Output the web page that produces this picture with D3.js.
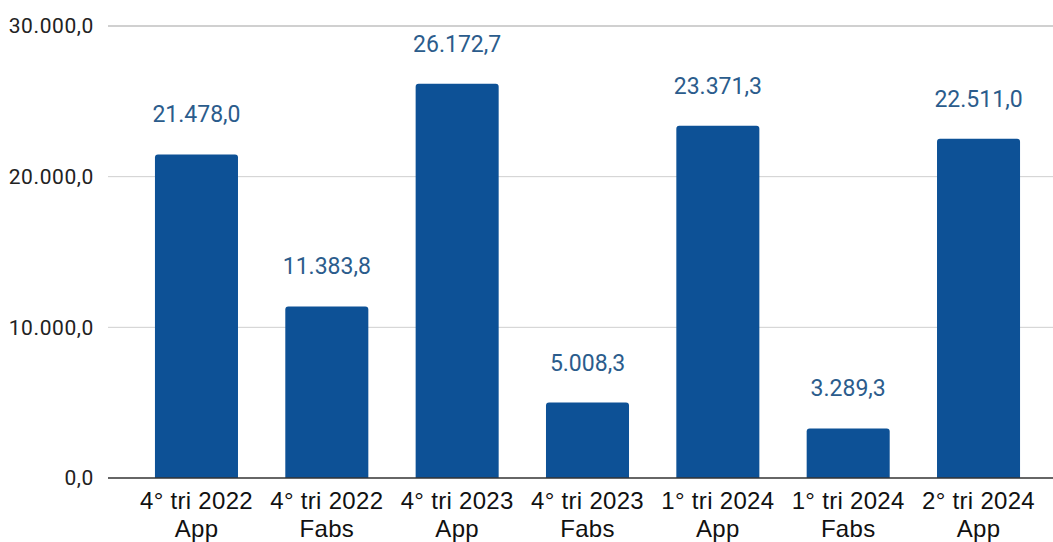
<!DOCTYPE html>
<html><head><meta charset="utf-8">
<script src="https://cdn.jsdelivr.net/npm/d3@7"></script>
<style>body{margin:0;background:#fff;}svg{display:block;}</style>
</head><body>
<svg id="c" width="1053" height="542"></svg>
<script>
const categories = [["4° tri 2022","App"],["4° tri 2022","Fabs"],["4° tri 2023","App"],["4° tri 2023","Fabs"],["1° tri 2024","App"],["1° tri 2024","Fabs"],["2° tri 2024","App"]];
const values = [21478.0, 11383.8, 26172.7, 5008.3, 23371.3, 3289.3, 22511.0];
const yTicks = [0, 10000, 20000, 30000];

const fmt = d3.formatLocale({decimal:",", thousands:".", grouping:[3], currency:["",""]}).format(",.1f");
const svg = d3.select("#c");
const W = 1053, H = 542;
const y = d3.scaleLinear().domain([0, 30000]).range([478, 26]);
const keys = categories.map((c,i)=>i);
const x = d3.scaleBand().domain(keys).range([131.3, 1043.7]).paddingInner(0.363).paddingOuter(0.1815);

// gridlines
svg.append("g").selectAll("line").data(yTicks.filter(t=>t>0)).join("line")
  .attr("x1",108).attr("x2",W).attr("y1",d=>y(d)).attr("y2",d=>y(d))
  .attr("stroke",d=>d===30000?"#d0d0d0":"#cfcfcf").attr("stroke-width",d=>d===30000?2:1);

// y axis
const ya = d3.axisLeft(y).tickValues(yTicks).tickSize(0).tickPadding(0).tickFormat(fmt);
svg.append("g").attr("transform","translate(94,0)").call(ya)
  .call(g=>g.select(".domain").remove())
  .selectAll("text").attr("font-family","Roboto, sans-serif").attr("font-size",21).attr("letter-spacing",0.6).attr("fill","#222");

// bars
const r = 3;
svg.append("g").selectAll("path").data(values).join("path")
  .attr("fill","#0d5196")
  .attr("d",(d,i)=>{
    const x0 = x(i), w = x.bandwidth(), y0 = y(d), yb = y(0);
    return `M${x0},${yb}V${y0+r}Q${x0},${y0} ${x0+r},${y0}H${x0+w-r}Q${x0+w},${y0} ${x0+w},${y0+r}V${yb}Z`;
  });

// value labels
svg.append("g").selectAll("text").data(values).join("text")
  .attr("x",(d,i)=>x(i)+x.bandwidth()/2).attr("y",d=>y(d)-32)
  .attr("text-anchor","middle").attr("font-family","Roboto, sans-serif").attr("font-size",23)
  .attr("fill","#2b5c8c").text(d=>fmt(d));

// x axis
const xa = d3.axisBottom(x).tickSize(0).tickPadding(0).tickFormat(()=> "");
svg.append("g").attr("transform",`translate(0,${y(0)})`).call(xa)
  .call(g=>g.select(".domain").remove());
svg.append("line").attr("x1",108).attr("x2",W).attr("y1",y(0)).attr("y2",y(0)).attr("stroke","#333").attr("stroke-width",1.5);

const lab = svg.append("g").selectAll("text").data(categories).join("text")
  .attr("text-anchor","middle").attr("font-family","'Liberation Sans', Arial, sans-serif").attr("font-size",24).attr("letter-spacing",0.3).attr("fill","#111")
  .attr("transform",(d,i)=>`translate(${x(i)+x.bandwidth()/2},0)`);
lab.append("tspan").attr("x",0).attr("y",509).text(d=>d[0]);
lab.append("tspan").attr("x",0).attr("y",537).text(d=>d[1]);
</script>
</body></html>
